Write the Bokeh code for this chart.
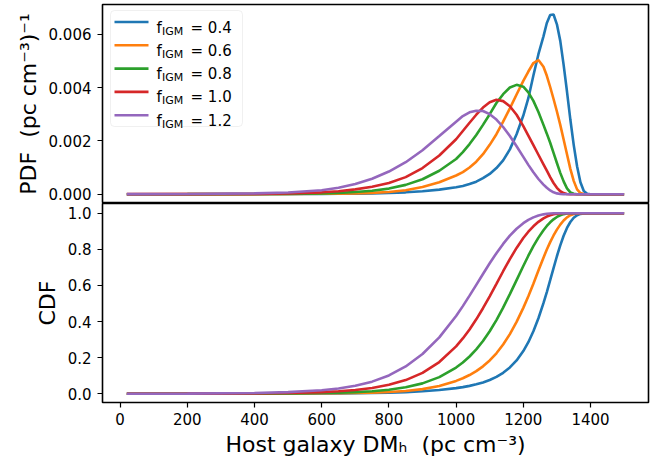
import numpy as np
from bokeh.plotting import figure
from bokeh.models import Range1d, FixedTicker, PrintfTickFormatter, BoxAnnotation, Label
from bokeh.layouts import column
from bokeh.embed import file_html
from bokeh.resources import INLINE

# ---------------- data ----------------
dm = [20, 200, 400, 500, 600, 650, 700, 750, 800, 850,
      900, 950, 1000, 1020, 1040, 1060, 1080, 1100, 1120, 1140,
      1160, 1180, 1200, 1215, 1230, 1245, 1260, 1270, 1280, 1290,
      1300, 1310, 1320, 1330, 1340, 1350, 1360, 1370, 1380, 1390,
      1400, 1420, 1450, 1500]

# PDF values in units of 1e-3 (pc cm^-3)^-1
pdf_04 = [0, 0, 0.002, 0.005, 0.01, 0.014, 0.02, 0.03, 0.045, 0.07,
          0.11, 0.17, 0.26, 0.31, 0.38, 0.47, 0.6, 0.76, 0.98, 1.27,
          1.68, 2.25, 2.95, 3.6, 4.45, 5.25, 5.92, 6.42, 6.72, 6.74,
          6.37, 5.75, 4.85, 3.85, 2.8, 1.85, 1.05, 0.45, 0.12, 0.02,
          0, 0, 0, 0]
pdf_06 = [0, 0.001, 0.004, 0.008, 0.015, 0.02, 0.03, 0.05, 0.085, 0.15,
          0.27, 0.45, 0.7, 0.83, 1.0, 1.22, 1.5, 1.85, 2.25, 2.72,
          3.22, 3.74, 4.25, 4.6, 4.92, 5.03, 4.78, 4.44, 4.02, 3.57,
          3.1, 2.6, 2.05, 1.5, 0.95, 0.5, 0.18, 0.04, 0.005, 0,
          0, 0, 0, 0]
pdf_08 = [0, 0.001, 0.006, 0.013, 0.03, 0.05, 0.08, 0.13, 0.21, 0.35,
          0.56, 0.88, 1.32, 1.58, 1.88, 2.22, 2.6, 3.0, 3.42, 3.75,
          4.0, 4.1, 4.03, 3.82, 3.5, 3.08, 2.6, 2.27, 1.93, 1.55,
          1.17, 0.8, 0.48, 0.22, 0.07, 0.015, 0, 0, 0, 0,
          0, 0, 0, 0]
pdf_10 = [0.001, 0.003, 0.013, 0.03, 0.07, 0.11, 0.18, 0.28, 0.42, 0.64,
          0.98, 1.45, 2.06, 2.37, 2.68, 2.98, 3.25, 3.45, 3.54, 3.49,
          3.3, 2.98, 2.55, 2.2, 1.84, 1.48, 1.12, 0.88, 0.64, 0.42,
          0.24, 0.11, 0.04, 0.01, 0, 0, 0, 0, 0, 0,
          0, 0, 0, 0]
pdf_12 = [0.002, 0.007, 0.03, 0.065, 0.15, 0.24, 0.38, 0.58, 0.85, 1.2,
          1.65, 2.18, 2.72, 2.93, 3.07, 3.13, 3.12, 3.0, 2.8, 2.52,
          2.18, 1.8, 1.4, 1.1, 0.82, 0.57, 0.36, 0.24, 0.14, 0.07,
          0.03, 0.01, 0, 0, 0, 0, 0, 0, 0, 0,
          0, 0, 0, 0]

cdf_04 = [0, 0, 0.0002, 0.0005, 0.0013, 0.0019, 0.0027, 0.004, 0.0059, 0.0088,
          0.0133, 0.0202, 0.0309, 0.0366, 0.0435, 0.052, 0.0626, 0.0762, 0.0935, 0.116,
          0.1454, 0.1846, 0.2364, 0.2854, 0.3456, 0.4182, 0.5018, 0.5633, 0.6288, 0.696,
          0.7614, 0.8218, 0.8747, 0.9181, 0.9512, 0.9744, 0.9888, 0.9963, 0.9991, 0.9998,
          1.0, 1.0, 1.0, 1.0]
cdf_06 = [0, 0.0001, 0.0006, 0.0012, 0.0023, 0.0031, 0.0044, 0.0063, 0.0096, 0.0153,
          0.0255, 0.043, 0.071, 0.0858, 0.1036, 0.1252, 0.1517, 0.1842, 0.2241, 0.2724,
          0.3302, 0.3978, 0.4755, 0.5401, 0.6095, 0.682, 0.7536, 0.7984, 0.8395, 0.8765,
          0.909, 0.9367, 0.9592, 0.9765, 0.9884, 0.9955, 0.9988, 0.9999, 1.0, 1.0,
          1.0, 1.0, 1.0, 1.0]
cdf_08 = [0, 0.0001, 0.0008, 0.0016, 0.0038, 0.0057, 0.0088, 0.0139, 0.022, 0.0355,
          0.0574, 0.092, 0.145, 0.1729, 0.2062, 0.2457, 0.2921, 0.346, 0.4077, 0.4768,
          0.5514, 0.6294, 0.7076, 0.7643, 0.8171, 0.8646, 0.9056, 0.9291, 0.9493, 0.966,
          0.9791, 0.9885, 0.9947, 0.9981, 0.9995, 0.9999, 1.0, 1.0, 1.0, 1.0,
          1.0, 1.0, 1.0, 1.0]
cdf_10 = [0, 0.0004, 0.002, 0.004, 0.009, 0.0134, 0.0207, 0.032, 0.0493, 0.0755,
          0.1156, 0.1755, 0.2624, 0.3061, 0.356, 0.412, 0.4736, 0.5398, 0.6089, 0.6784,
          0.7455, 0.8076, 0.8623, 0.8975, 0.9274, 0.9521, 0.9713, 0.9812, 0.9887, 0.994,
          0.9972, 0.999, 0.9997, 1.0, 1.0, 1.0, 1.0, 1.0, 1.0, 1.0,
          1.0, 1.0, 1.0, 1.0]
cdf_12 = [0, 0.0008, 0.0043, 0.009, 0.0193, 0.0288, 0.0438, 0.0669, 0.1014, 0.151,
          0.2198, 0.3123, 0.4306, 0.4852, 0.5432, 0.6031, 0.6634, 0.7225, 0.7785, 0.8299,
          0.8753, 0.9138, 0.9447, 0.9628, 0.9767, 0.9868, 0.9935, 0.9964, 0.9983, 0.9993,
          0.9998, 1.0, 1.0, 1.0, 1.0, 1.0, 1.0, 1.0, 1.0, 1.0,
          1.0, 1.0, 1.0, 1.0]

f_igm = ["0.4", "0.6", "0.8", "1.0", "1.2"]
pdf_series = [pdf_04, pdf_06, pdf_08, pdf_10, pdf_12]
cdf_series = [cdf_04, cdf_06, cdf_08, cdf_10, cdf_12]
pdf_unit = 1e-3

dm_ticks = [0, 200, 400, 600, 800, 1000, 1200, 1400]
pdf_ticks = [0.0, 0.002, 0.004, 0.006]
cdf_ticks = [0.0, 0.2, 0.4, 0.6, 0.8, 1.0]

# ---------------- styling ----------------
colors = ["#1f77b4", "#ff7f0e", "#2ca02c", "#d62728", "#9467bd"]
FONT = "DejaVu Sans"
LW = 2.6
NB = "\u00a0"

xr = Range1d(-52.4, 1572.6)

p1 = figure(width=662, height=203, x_range=xr,
            y_range=Range1d(-0.000349, 0.007114),
            output_backend="svg", toolbar_location=None,
            x_axis_location=None,
            min_border_left=102, min_border_right=14,
            min_border_top=4, min_border_bottom=0)
p2 = figure(width=662, height=257, x_range=xr,
            y_range=Range1d(-0.0486, 1.0536),
            output_backend="svg", toolbar_location=None,
            min_border_left=102, min_border_right=14,
            min_border_top=0, min_border_bottom=58)

for p in (p1, p2):
    p.grid.visible = False
    p.outline_line_color = "black"
    p.outline_line_width = 1.6
    p.outline_line_alpha = 1.0
    p.background_fill_color = "white"
    p.border_fill_color = "white"
    for ax in p.axis:
        ax.axis_line_color = None
        ax.major_tick_line_color = "black"
        ax.major_tick_line_width = 1.2
        ax.major_tick_out = 5
        ax.major_tick_in = 0
        ax.minor_tick_line_color = None
        ax.major_label_text_font = FONT
        ax.major_label_text_font_size = "15px"
        ax.major_label_text_color = "black"
        ax.axis_label_text_font = FONT
        ax.axis_label_text_font_size = "22px"
        ax.axis_label_text_font_style = "normal"
        ax.axis_label_text_color = "black"
    for ax in p.yaxis:
        ax.major_label_standoff = 6
        ax.axis_label_standoff = 5

p1.yaxis.ticker = FixedTicker(ticks=pdf_ticks)
p1.yaxis.formatter = PrintfTickFormatter(format="%.3f")
p1.yaxis.axis_label = "PDF" + NB + NB + "(pc cm\u207b\u00b3)\u207b\u00b9"

p2.yaxis.ticker = FixedTicker(ticks=cdf_ticks)
p2.yaxis.formatter = PrintfTickFormatter(format="%.1f")
p2.yaxis.axis_label = "CDF"
p2.xaxis.ticker = FixedTicker(ticks=dm_ticks)
p2.xaxis.formatter = PrintfTickFormatter(format="%d")
p2.xaxis.axis_label = "Host galaxy DM\u2095" + NB + NB + "(pc cm\u207b\u00b3)"
p2.xaxis.major_label_standoff = 5
p2.xaxis.axis_label_standoff = 4

for pdf, cdf, c in zip(pdf_series, cdf_series, colors):
    p1.line(dm, np.array(pdf) * pdf_unit, line_color=c, line_width=LW)
    p2.line(dm, cdf, line_color=c, line_width=LW)

# ---------------- legend (built by hand for the subscript) ----------------
FB = 203  # page y of frame bottom of top plot (frame-relative screen coords)
box = BoxAnnotation(left=8, right=140, top=FB - 10, bottom=FB - 126,
                    left_units="screen", right_units="screen",
                    top_units="screen", bottom_units="screen",
                    fill_color="white", fill_alpha=0.8,
                    line_color="#cccccc", line_width=1, border_radius=4)
p1.add_layout(box)
for i, (f, c) in enumerate(zip(f_igm, colors)):
    row = 21.5 + i * 23.3
    yc = FB - row
    p1.add_layout(BoxAnnotation(left=12, right=46, bottom=yc - LW / 2, top=yc + LW / 2,
                                left_units="screen", right_units="screen",
                                top_units="screen", bottom_units="screen",
                                fill_color=c, fill_alpha=1.0, line_color=None))
    yb = yc - 5.5
    p1.add_layout(Label(x=54, y=yb, x_units="screen", y_units="screen", text="f",
                        text_font=FONT, text_font_size="15px", text_color="black",
                        text_baseline="alphabetic", text_align="left"))
    p1.add_layout(Label(x=59.5, y=yb - 3.5, x_units="screen", y_units="screen", text="IGM",
                        text_font=FONT, text_font_size="11px", text_color="black",
                        text_baseline="alphabetic", text_align="left"))
    p1.add_layout(Label(x=88, y=yb, x_units="screen", y_units="screen", text="= " + f,
                        text_font=FONT, text_font_size="15px", text_color="black",
                        text_baseline="alphabetic", text_align="left"))

layout = column(p1, p2)
open("out.html", "w").write(file_html(layout, INLINE))
